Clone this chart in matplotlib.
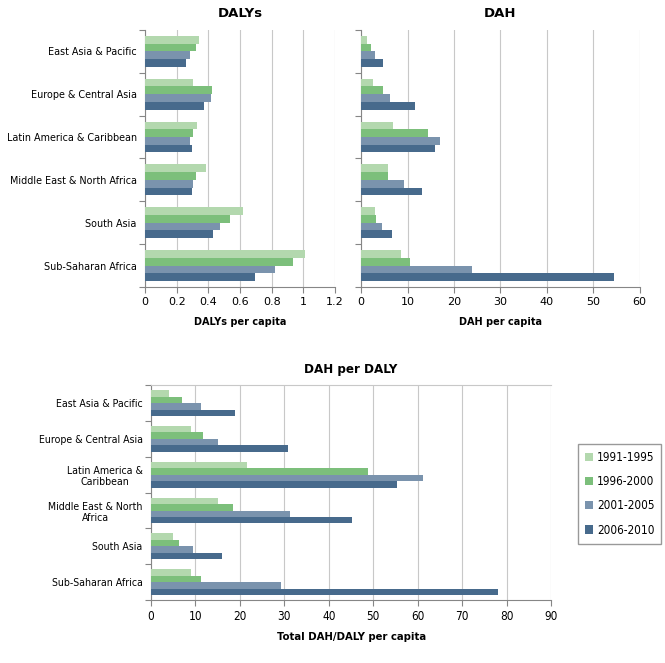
import matplotlib
matplotlib.use('Agg')
import matplotlib.pyplot as plt
import numpy as np

regions = ['East Asia & Pacific', 'Europe & Central Asia', 'Latin America & Caribbean',
           'Middle East & North Africa', 'South Asia', 'Sub-Saharan Africa']
regions_wrapped = ['East Asia & Pacific', 'Europe & Central Asia', 'Latin America &\nCaribbean',
                   'Middle East & North\nAfrica', 'South Asia', 'Sub-Saharan Africa']
periods = ['1991-1995', '1996-2000', '2001-2005', '2006-2010']
colors = ['#b3d8ae', '#7cbf7b', '#7a93ad', '#476a8c']

# values per period, in region order
dalys = [
    [0.344, 0.306, 0.331, 0.388, 0.621, 1.01],
    [0.319, 0.423, 0.300, 0.325, 0.539, 0.935],
    [0.281, 0.417, 0.281, 0.300, 0.476, 0.822],
    [0.262, 0.375, 0.294, 0.294, 0.432, 0.696],
]
dah = [
    [1.3, 2.6, 6.9, 5.7, 2.9, 8.7],
    [2.2, 4.8, 14.5, 5.9, 3.3, 10.6],
    [3.1, 6.3, 17.0, 9.3, 4.4, 23.9],
    [4.8, 11.5, 16.0, 13.2, 6.7, 54.4],
]
dah_per_daly = [
    [4.1, 9.0, 21.6, 15.0, 4.9, 8.9],
    [7.0, 11.8, 48.9, 18.5, 6.2, 11.3],
    [11.3, 15.1, 61.1, 31.3, 9.5, 29.3],
    [18.8, 30.7, 55.3, 45.2, 15.9, 78.0],
]

grid_c = '#c8c8c8'
spine_c = '#868686'


def draw(ax, data, xmax, xstep, title, xlabel, labels, stretch, fs, tfs, xlfs):
    n = len(regions)
    pos = np.arange(n)
    h = 0.18
    for i, vals in enumerate(data):
        ax.barh(pos - 1.5 * h + i * h, vals, height=h, color=colors[i],
                label=periods[i], zorder=3)
    ax.set_ylim(n - 0.5, -0.5)
    ax.set_xlim(0, xmax)
    ax.set_xticks(np.arange(0, xmax + xstep / 2, xstep))
    ax.set_yticks(np.arange(-0.5, n, 1.0))
    ax.set_yticklabels([])
    ax.set_yticks(pos, minor=True)
    if labels is not None:
        ax.set_yticklabels(labels, minor=True, fontsize=fs, fontstretch=stretch,
                           multialignment='center')
    ax.tick_params(axis='y', which='minor', length=0, pad=6)
    ax.tick_params(axis='y', which='major', length=4, color=spine_c)
    ax.tick_params(axis='x', length=4, color=spine_c, labelsize=tfs, pad=3)
    for lab in ax.get_xticklabels():
        lab.set_fontstretch(stretch)
    ax.xaxis.grid(True, color=grid_c, lw=0.8, zorder=0)
    for s in ['top', 'right']:
        ax.spines[s].set_visible(False)
    for s in ['left', 'bottom']:
        ax.spines[s].set_color(spine_c)
    ax.set_title(title, fontweight='bold', fontsize=9.5, fontstretch=stretch, pad=9)
    ax.set_xlabel(xlabel, fontweight='bold', fontsize=xlfs, labelpad=7)


fig = plt.figure(figsize=(6.65, 6.63), dpi=100)

ax1 = fig.add_axes([0.218, 0.567, 0.286, 0.388])
draw(ax1, dalys, 1.2, 0.2, 'DALYs', 'DALYs per capita', regions, 'normal', 6.9, 8, 7)
ax1.set_xticklabels(['0', '0.2', '0.4', '0.6', '0.8', '1', '1.2'])

ax2 = fig.add_axes([0.543, 0.567, 0.419, 0.388])
draw(ax2, dah, 60, 10, 'DAH', 'DAH per capita', None, 'normal', 6.9, 8, 7)

ax3 = fig.add_axes([0.227, 0.095, 0.602, 0.324])
draw(ax3, dah_per_daly, 90, 10, 'DAH per DALY', 'Total DAH/DALY per capita',
     regions_wrapped, 'condensed', 7.6, 8.5, 7.3)
ax3.spines['top'].set_visible(True)
ax3.spines['top'].set_color(grid_c)

leg = ax3.legend(loc='upper left', bbox_to_anchor=(572 / 665, 1 - 438 / 663),
                 bbox_transform=fig.transFigure, frameon=True,
                 fancybox=False, edgecolor='#808080',
                 handlelength=0.7, handleheight=0.7, handletextpad=0.3,
                 labelspacing=0.95, borderpad=0.6,
                 prop={'size': 8.5, 'stretch': 'condensed'})
leg.get_frame().set_linewidth(1.0)

fig.savefig('out.png', dpi=100)
